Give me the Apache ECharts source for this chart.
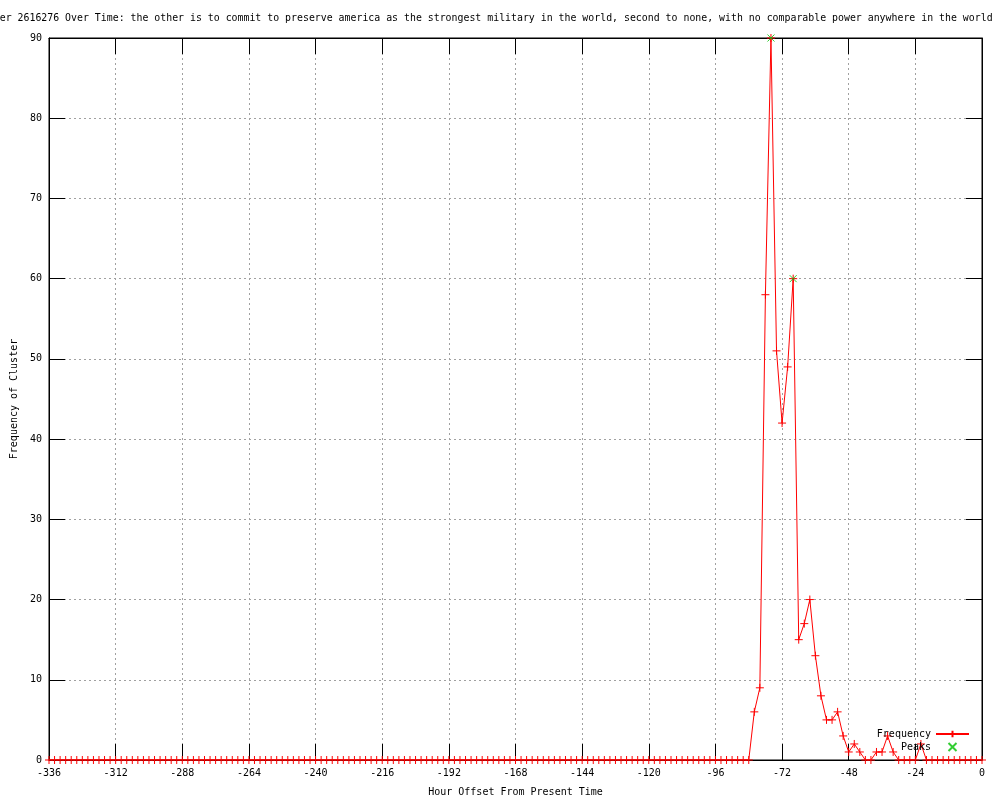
<!DOCTYPE html>
<html>
<head>
<meta charset="utf-8">
<script src="https://cdn.jsdelivr.net/npm/echarts@6/dist/echarts.min.js"></script>
<style>
html,body{margin:0;padding:0;background:#fff;}
#chart{width:1000px;height:800px;}
</style>
</head>
<body>
<div id="chart"></div>
<script>
// Hour offsets (every 2 hours from -336 to 0)
const hours = [
-336,-334,-332,-330,-328,-326,-324,-322,-320,-318,-316,-314,-312,-310,-308,-306,-304,-302,-300,-298,
-296,-294,-292,-290,-288,-286,-284,-282,-280,-278,-276,-274,-272,-270,-268,-266,-264,-262,-260,-258,
-256,-254,-252,-250,-248,-246,-244,-242,-240,-238,-236,-234,-232,-230,-228,-226,-224,-222,-220,-218,
-216,-214,-212,-210,-208,-206,-204,-202,-200,-198,-196,-194,-192,-190,-188,-186,-184,-182,-180,-178,
-176,-174,-172,-170,-168,-166,-164,-162,-160,-158,-156,-154,-152,-150,-148,-146,-144,-142,-140,-138,
-136,-134,-132,-130,-128,-126,-124,-122,-120,-118,-116,-114,-112,-110,-108,-106,-104,-102,-100,-98,
-96,-94,-92,-90,-88,-86,-84,-82,-80,-78,-76,-74,-72,-70,-68,-66,-64,-62,-60,-58,
-56,-54,-52,-50,-48,-46,-44,-42,-40,-38,-36,-34,-32,-30,-28,-26,-24,-22,-20,-18,
-16,-14,-12,-10,-8,-6,-4,-2,0
];
// Frequency values at each hour offset
const frequency = [
0,0,0,0,0,0,0,0,0,0,0,0,0,0,0,0,0,0,0,0,
0,0,0,0,0,0,0,0,0,0,0,0,0,0,0,0,0,0,0,0,
0,0,0,0,0,0,0,0,0,0,0,0,0,0,0,0,0,0,0,0,
0,0,0,0,0,0,0,0,0,0,0,0,0,0,0,0,0,0,0,0,
0,0,0,0,0,0,0,0,0,0,0,0,0,0,0,0,0,0,0,0,
0,0,0,0,0,0,0,0,0,0,0,0,0,0,0,0,0,0,0,0,
0,0,0,0,0,0,0,6,9,58,90,51,42,49,60,15,17,20,13,8,
5,5,6,3,1,2,1,0,0,1,1,3,1,0,0,0,0,2,0,0,
0,0,0,0,0,0,0,0,0
];
// Detected peaks
const peakHours = [-76, -68];
const peakValues = [90, 60];

const xTicks = { min: -336, max: 0, interval: 24 };
const yTicks = { min: 0, max: 90, interval: 10 };

const titleText = 'Cluster 2616276 Over Time: the other is to commit to preserve america as the strongest military in the world, second to none, with no comparable power anywhere in the world';

const FONT = '"DejaVu Sans Mono", monospace';
const freqData = hours.map((h, i) => [h, frequency[i]]);
const peakData = peakHours.map((h, i) => [h, peakValues[i]]);

const chart = echarts.init(document.getElementById('chart'), null, { renderer: 'canvas' });
const gridDash = { color: '#a0a0a0', type: [2, 3], width: 1 };
const axLine = { show: true, onZero: false, lineStyle: { color: '#000', width: 1 } };
const axTick = { show: true, inside: true, length: 16, lineStyle: { color: '#000' } };
chart.setOption({
  animation: false,
  backgroundColor: '#ffffff',
  title: {
    text: titleText,
    left: -30,
    top: 13,
    padding: 0,
    textStyle: { fontFamily: FONT, fontSize: 9.9, fontWeight: 'normal', color: '#000' }
  },
  grid: { left: 49, right: 18, top: 38, bottom: 40, containLabel: false, outerBoundsMode: 'none', show: true, borderColor: '#000', borderWidth: 1, backgroundColor: 'transparent' },
  legend: {
    data: ['Frequency', 'Peaks'],
    orient: 'vertical',
    right: 30,
    top: 729,
    align: 'right',
    itemWidth: 33,
    itemHeight: 8,
    itemGap: 3,
    padding: 0,
    textStyle: { fontFamily: FONT, fontSize: 10, color: '#000' }
  },
  xAxis: [{
    type: 'value', min: xTicks.min, max: xTicks.max, interval: xTicks.interval,
    name: 'Hour Offset From Present Time', nameLocation: 'middle', nameGap: 27,
    nameTextStyle: { fontFamily: FONT, fontSize: 10, color: '#000' },
    axisLine: axLine,
    axisTick: axTick,
    axisLabel: { fontFamily: FONT, fontSize: 10, color: '#000', margin: 8 },
    splitLine: { show: true, lineStyle: gridDash }
  }, {
    type: 'value', position: 'top', min: xTicks.min, max: xTicks.max, interval: xTicks.interval,
    axisLine: axLine,
    axisTick: axTick,
    axisLabel: { show: false },
    splitLine: { show: false }
  }],
  yAxis: [{
    type: 'value', position: 'left', min: yTicks.min, max: yTicks.max, interval: yTicks.interval,
    name: 'Frequency of Cluster', nameLocation: 'middle', nameGap: 30, nameRotate: 90,
    nameTextStyle: { fontFamily: FONT, fontSize: 10, color: '#000' },
    axisLine: axLine,
    axisTick: axTick,
    axisLabel: { fontFamily: FONT, fontSize: 10, color: '#000', margin: 7 },
    splitLine: { show: true, lineStyle: gridDash }
  }, {
    type: 'value', position: 'right', min: yTicks.min, max: yTicks.max, interval: yTicks.interval,
    axisLine: axLine,
    axisTick: axTick,
    axisLabel: { show: false },
    splitLine: { show: false }
  }],
  series: [{
    name: 'Frequency',
    type: 'line',
    data: freqData,
    showAllSymbol: true,
    symbol: 'path://M0,5L10,5M5,0L5,10',
    symbolSize: 8,
    lineStyle: { color: '#ff0000', width: 1 },
    itemStyle: { color: '#ff0000', borderColor: '#ff0000', borderWidth: 1 },
    emphasis: { disabled: true },
    z: 3
  }, {
    name: 'Peaks',
    type: 'scatter',
    data: peakData,
    symbol: 'path://M0,0L10,10M10,0L0,10',
    symbolSize: 7,
    itemStyle: { color: '#00c000', borderColor: '#00c000', borderWidth: 1 },
    emphasis: { disabled: true },
    z: 4
  }]
});
</script>
</body>
</html>
